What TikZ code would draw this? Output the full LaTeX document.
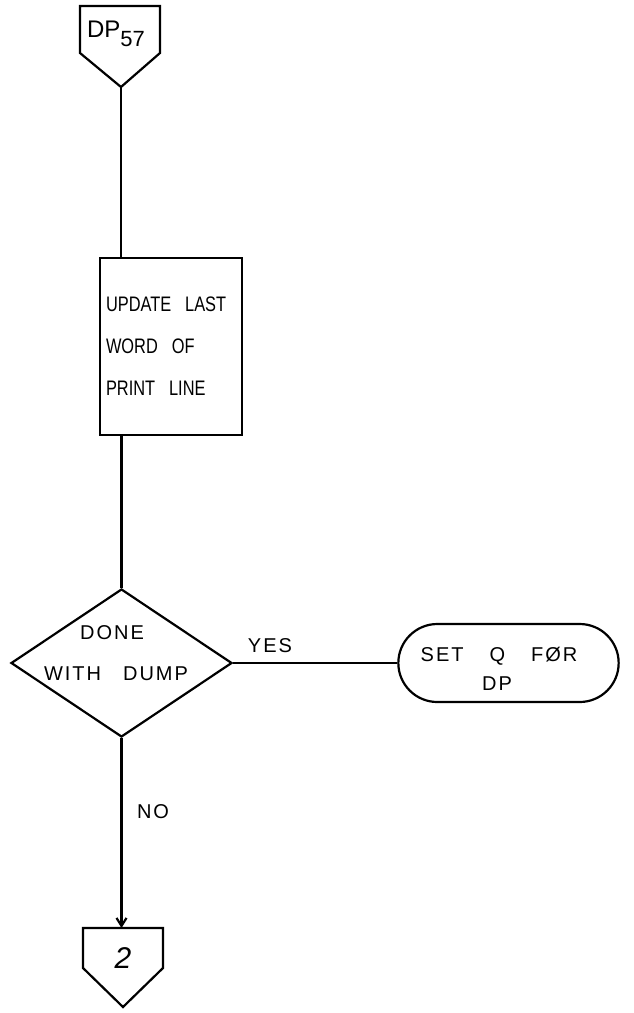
\documentclass[tikz,border=0pt]{standalone}
\usepackage{fontspec}
\setmainfont{Liberation Sans}
\newfontfamily\hand[FakeStretch=0.78]{Liberation Sans}
\newfontfamily\handwide[LetterSpace=10]{Liberation Sans}
\usetikzlibrary{shapes.geometric,shapes.misc,arrows.meta}
\begin{document}
\begin{tikzpicture}[x=1pt,y=-1pt,
  line width=2pt,
  conn/.style={draw,line width=2.2pt,line join=miter},
  flow/.style={draw,line width=2.2pt},
  procbox/.style={draw,line width=2.2pt,rectangle,minimum width=142pt,minimum height=177pt,
     text width=130pt,inner xsep=6pt,align=left,font=\hand\fontsize{21}{42}\selectfont},
  decision/.style={draw,line width=2.2pt,diamond,minimum width=221pt,minimum height=148pt,inner sep=0pt},
  term/.style={draw,line width=2.2pt,rounded rectangle,minimum width=227pt,minimum height=78pt},
  txt/.style={font=\handwide\fontsize{20}{28}\selectfont,inner sep=0pt,align=center},
  lbl/.style={font=\handwide\fontsize{20}{24}\selectfont,inner sep=0pt}
]
\useasboundingbox (0,0) rectangle (634,1013);
\fill[white] (0,0) rectangle (634,1013);

% top off-page connector
\draw[conn] (80,6) -- (160,6) -- (160,53) -- (121,87) -- (80,53) -- cycle;
\coordinate (ctop) at (121,87);
\node[font=\fontsize{24}{28}\selectfont,inner sep=0pt] (ctoptext) at (116,34) {DP\raisebox{-9pt}{\fontsize{22}{26}\selectfont 57}};

% process box
\node[procbox] (upd) at (171,346.5) {UPDATE\hspace{14pt}LAST\\WORD\hspace{14pt}OF\\PRINT\hspace{14pt}LINE};

% decision
\node[decision] (dec) at (121.5,663) {};
\node[txt] (decA) at (112,633) {DONE};
\node[txt] (decB) at (116,674) {WITH\hspace{22pt}DUMP};

% terminal
\node[term] (set) at (508.5,663) {};
\node[txt] (setA) at (499,656) {SET\hspace{26pt}Q\hspace{26pt}FØR};
\node[txt] (setB) at (497,684) {DP};

% bottom off-page connector
\draw[conn] (83,928) -- (163,928) -- (163,968) -- (123,1007) -- (83,968) -- cycle;
\coordinate (cbot) at (123,928);
\node[font=\fontsize{30}{34}\selectfont\itshape] (cbottext) at (123,958) {2};

% connectors
\draw[flow] (ctop) -- (ctop |- upd.north);
\draw[flow] (dec.north |- upd.south) -- (dec.north);
\draw[flow] (dec.east) -- (set.west);
\node[lbl] (yes) at (270,646) {YES};
\draw[flow,-{Straight Barb[length=8pt,width=10pt]}] (dec.south) -- (dec.south |- cbot);
\node[lbl] (no) at (153,812) {NO};
\end{tikzpicture}
\end{document}
